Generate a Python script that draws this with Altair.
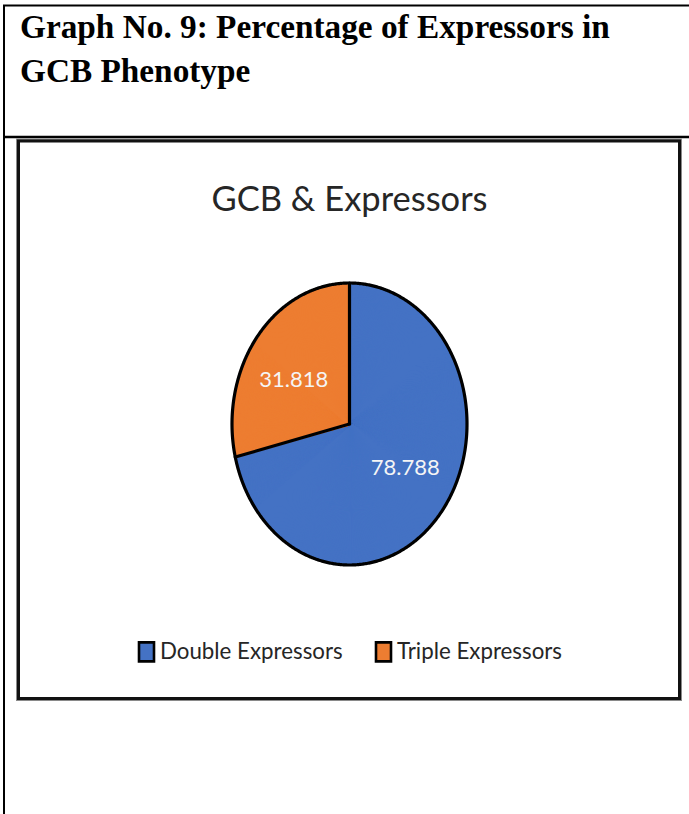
import altair as alt
import pandas as pd
import numpy as np

# ---- data ----
categories = ["Double Expressors", "Triple Expressors"]
values = [78.788, 31.818]
value_labels = ["78.788", "31.818"]
colors = ["#4472C4", "#ED7D31"]
page_title = ["Graph No. 9: Percentage of Expressors in", "GCB Phenotype"]
chart_title = "GCB & Expressors"

# ---- layout / style constants ----
W, H = 689, 814
CX, CY, RX, RY = 349.5, 424.0, 117.5, 141.0   # pie centre and radii (px)
LABEL_R = 71.0                                 # label distance from centre (px)
STEP = 0.4                                     # fill-ray angular step (deg)
SANS = "Lato"

total = float(sum(values))
fill_rows, edge_rows, label_rows = [], [], []
start = 0.0
for cat, v, lab in zip(categories, values, value_labels):
    span = 360.0 * v / total
    n = int(np.ceil(span / STEP))
    for k in range(n):
        a = np.radians(start + (k + 0.5) * span / n)
        fill_rows.append({"cat": cat, "x0": 0.0, "y0": 0.0, "x1": np.sin(a), "y1": np.cos(a)})
    a0 = np.radians(start)
    edge_rows.append({"x0": 0.0, "y0": 0.0, "x1": np.sin(a0), "y1": np.cos(a0)})
    mid = np.radians(start + span / 2)
    label_rows.append({"text": lab, "lx": LABEL_R / RX * np.sin(mid), "ly": LABEL_R / RY * np.cos(mid)})
    start += span

fill_df = pd.DataFrame(fill_rows)
edge_df = pd.DataFrame(edge_rows)
label_df = pd.DataFrame(label_rows)
legend_df = pd.DataFrame({"cat": categories, "x0": [0.0] * len(categories), "y0": [0.0] * len(categories)})
t = np.radians(np.arange(0, 360.5, 0.5))
outline_df = pd.DataFrame({"i": np.arange(len(t)), "x": np.sin(t), "y": np.cos(t)})

xs = alt.Scale(domain=[-CX / RX, (W - CX) / RX], nice=False, zero=False)
ys = alt.Scale(domain=[(CY - H) / RY, CY / RY], nice=False, zero=False)
noax = None

one = alt.Data(values=[{"a": 1}])

# frame lines of the table
frame_left = alt.Chart(one).mark_rule(color="black", strokeWidth=2).encode(
    x=alt.value(4), y=alt.value(5), y2=alt.value(H))
frame_top = alt.Chart(one).mark_rule(color="black", strokeWidth=2).encode(
    x=alt.value(3), x2=alt.value(W), y=alt.value(5.5))
frame_sep = alt.Chart(one).mark_rule(color="black", strokeWidth=2.5).encode(
    x=alt.value(3), x2=alt.value(W), y=alt.value(137))

box_halo = alt.Chart(one).mark_rect(fill="white", stroke="#8a8a8a", strokeWidth=5).encode(
    x=alt.value(18.5), x2=alt.value(679.5), y=alt.value(141), y2=alt.value(698.5))
box = alt.Chart(one).mark_rect(fill="white", stroke="#111111", strokeWidth=3).encode(
    x=alt.value(18.5), x2=alt.value(679.5), y=alt.value(141), y2=alt.value(698.5))

title1 = alt.Chart(one).mark_text(
    text=page_title[0], font="Liberation Serif", fontWeight="bold", fontSize=33.3,
    align="left", baseline="alphabetic", color="black").encode(x=alt.value(20), y=alt.value(38))
title2 = alt.Chart(one).mark_text(
    text=page_title[1], font="Liberation Serif", fontWeight="bold", fontSize=33.3,
    align="left", baseline="alphabetic", color="black").encode(x=alt.value(20), y=alt.value(82))

ctitle = alt.Chart(one).mark_text(
    text=chart_title, font=SANS, fontSize=34.5, align="center", baseline="alphabetic",
    color="#262626").encode(x=alt.value(349.5), y=alt.value(211))

color_scale = alt.Scale(domain=categories, range=colors)
outline_scale = alt.Scale(domain=categories, range=["black"] * len(categories))

legend_common = dict(
    orient="none", legendX=135, legendY=640, direction="horizontal", title=None,
    symbolType="M-0.75,-0.95H0.75V0.95H-0.75Z", symbolSize=400, labelFont=SANS,
    labelFontSize=22.3, labelColor="#262626", labelOffset=2, columnPadding=27,
    labelLimit=400, symbolOpacity=1, symbolStrokeWidth=2.6)

# legend carriers (hidden under the pie): coloured fills + black outlines
legend_fill = alt.Chart(legend_df).mark_square(filled=True, size=1).encode(
    x=alt.X("x0:Q", scale=xs, axis=noax), y=alt.Y("y0:Q", scale=ys, axis=noax),
    fill=alt.Fill("cat:N", scale=color_scale, legend=alt.Legend(**legend_common)))
legend_stroke = alt.Chart(legend_df).mark_square(filled=False, size=1).encode(
    x=alt.X("x0:Q", scale=xs, axis=noax), y=alt.Y("y0:Q", scale=ys, axis=noax),
    stroke=alt.Stroke("cat:N", scale=outline_scale, legend=alt.Legend(**legend_common)))

rays = alt.Chart(fill_df).mark_rule(strokeWidth=3).encode(
    x=alt.X("x0:Q", scale=xs, axis=noax), y=alt.Y("y0:Q", scale=ys, axis=noax),
    x2="x1:Q", y2="y1:Q",
    color=alt.Color("cat:N", scale=color_scale, legend=None))

outline = alt.Chart(outline_df).mark_line(color="black", strokeWidth=3.2).encode(
    x=alt.X("x:Q", scale=xs, axis=noax), y=alt.Y("y:Q", scale=ys, axis=noax),
    order="i:Q")

edges = alt.Chart(edge_df).mark_rule(color="black", strokeWidth=3.2, strokeCap="round").encode(
    x=alt.X("x0:Q", scale=xs, axis=noax), y=alt.Y("y0:Q", scale=ys, axis=noax),
    x2="x1:Q", y2="y1:Q")

labels = alt.Chart(label_df).mark_text(
    font=SANS, fontSize=22, color="#F5F5F5", align="center", baseline="middle").encode(
    x=alt.X("lx:Q", scale=xs, axis=noax), y=alt.Y("ly:Q", scale=ys, axis=noax), text="text:N")

chart = alt.layer(
    frame_left, frame_top, frame_sep, box_halo, box, title1, title2, ctitle,
    legend_fill, legend_stroke, rays, outline, edges, labels
).properties(
    width=W, height=H, padding=0, autosize=alt.AutoSizeParams(type="none"),
    background="white"
).configure_view(stroke=None)

chart.save("out.html", embed_options={"renderer": "svg", "actions": False})
